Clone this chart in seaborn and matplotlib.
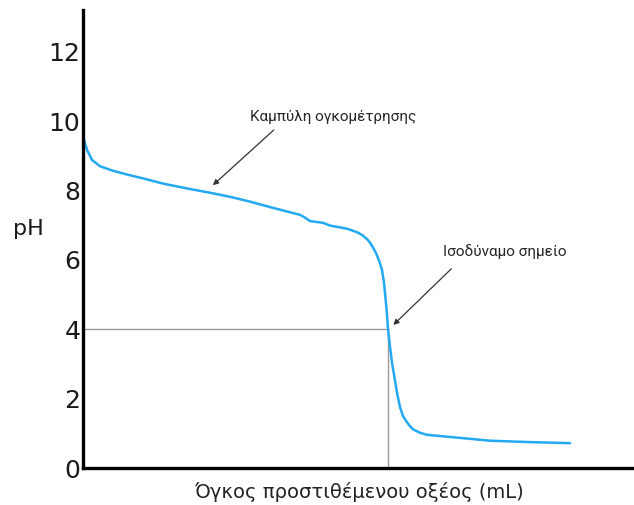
import matplotlib
matplotlib.use("Agg")
import matplotlib.pyplot as plt
import seaborn as sns
import pandas as pd
from matplotlib import font_manager

# όγκος οξέος (mL) και pH, διαβασμένα από την εικόνα
ογκος = [0.00, 0.18, 0.36, 0.82, 1.54, 2.72, 4.26, 5.44, 7.26, 9.44, 11.80,
         13.34, 15.15, 17.24, 19.69, 20.14, 20.60, 21.78, 22.41, 23.96, 24.86,
         25.32, 25.77, 26.04, 26.31, 26.58, 26.77, 26.95, 27.13, 27.31, 27.40,
         27.54, 27.68, 27.86, 28.04, 28.27, 28.50, 28.77, 29.04, 29.40, 29.67,
         29.94, 30.58, 31.21, 33.94, 36.93, 40.56, 44.19]
ph = [9.60, 9.35, 9.17, 8.88, 8.70, 8.57, 8.44, 8.35, 8.20, 8.06, 7.92,
      7.82, 7.68, 7.50, 7.30, 7.22, 7.12, 7.07, 6.99, 6.90, 6.80,
      6.72, 6.60, 6.50, 6.36, 6.20, 6.06, 5.90, 5.71, 5.35, 5.05,
      4.60, 4.00, 3.50, 3.03, 2.60, 2.16, 1.75, 1.50, 1.32, 1.21,
      1.12, 1.02, 0.96, 0.88, 0.79, 0.75, 0.72]
ισοδυναμο_x = 27.68
ισοδυναμο_ph = 4.02
y_ticks = [0, 2, 4, 6, 8, 10, 12]

sns.set_theme(style="white")
names = {f.name for f in font_manager.fontManager.ttflist}
narrow = "Liberation Sans Narrow" if "Liberation Sans Narrow" in names else "Roboto"
plt.rcParams['font.family'] = ['DejaVu Sans']

df = pd.DataFrame({'ogkos': ογκος, 'ph': ph})

fig = plt.figure(figsize=(6.34, 5.05), dpi=100)
ax = fig.add_axes([0.131, 0.073, 0.869, 0.907])

# βοηθητικές γραμμές στο ισοδύναμο σημείο
ax.plot([0, ισοδυναμο_x], [ισοδυναμο_ph, ισοδυναμο_ph], color='#999999', lw=1)
ax.plot([ισοδυναμο_x, ισοδυναμο_x], [0, ισοδυναμο_ph], color='#999999', lw=1)

sns.lineplot(data=df, x='ogkos', y='ph', color='#22a9f0', lw=1.8, ax=ax,
             sort=False, estimator=None, solid_capstyle='round',
             solid_joinstyle='round')

ax.set_xlim(0, 50)
ax.set_ylim(0, 13.2)
ax.set_xticks([])
ax.set_yticks(y_ticks)
ax.set_yticklabels([str(t) for t in y_ticks], fontsize=18, color='#1a1a1a')
ax.tick_params(axis='y', length=0, pad=2)

for s in ['top', 'right']:
    ax.spines[s].set_visible(False)
for s in ['left', 'bottom']:
    ax.spines[s].set_color('black')
    ax.spines[s].set_linewidth(2.4)

ax.set_ylabel('pH', fontsize=16, rotation=0, color='#1a1a1a', labelpad=14)
ax.yaxis.set_label_coords(-0.1, 0.5)
ax.set_xlabel('Όγκος προστιθέμενου οξέος (mL)', fontsize=14, color='#222222',
              labelpad=10)

arrow = dict(arrowstyle='-|>', color='#333333', lw=0.9, mutation_scale=8)
ax.annotate('Καμπύλη ογκομέτρησης', xy=(11.6, 8.02), xytext=(22.7, 10.12),
            fontsize=11, family=[narrow, 'DejaVu Sans'], ha='center',
            va='center')
ax.annotate('', xy=(11.6, 8.1), xytext=(17.5, 9.8), arrowprops=arrow)
ax.annotate('Ισοδύναμο σημείο', xy=(ισοδυναμο_x, ισοδυναμο_ph),
            xytext=(38.3, 6.23), fontsize=11, family=[narrow, 'DejaVu Sans'],
            ha='center', va='center')
ax.annotate('', xy=(ισοδυναμο_x + 0.3, ισοδυναμο_ph + 0.05),
            xytext=(33.6, 5.8), arrowprops=arrow)

fig.savefig('out.png', dpi=100)
